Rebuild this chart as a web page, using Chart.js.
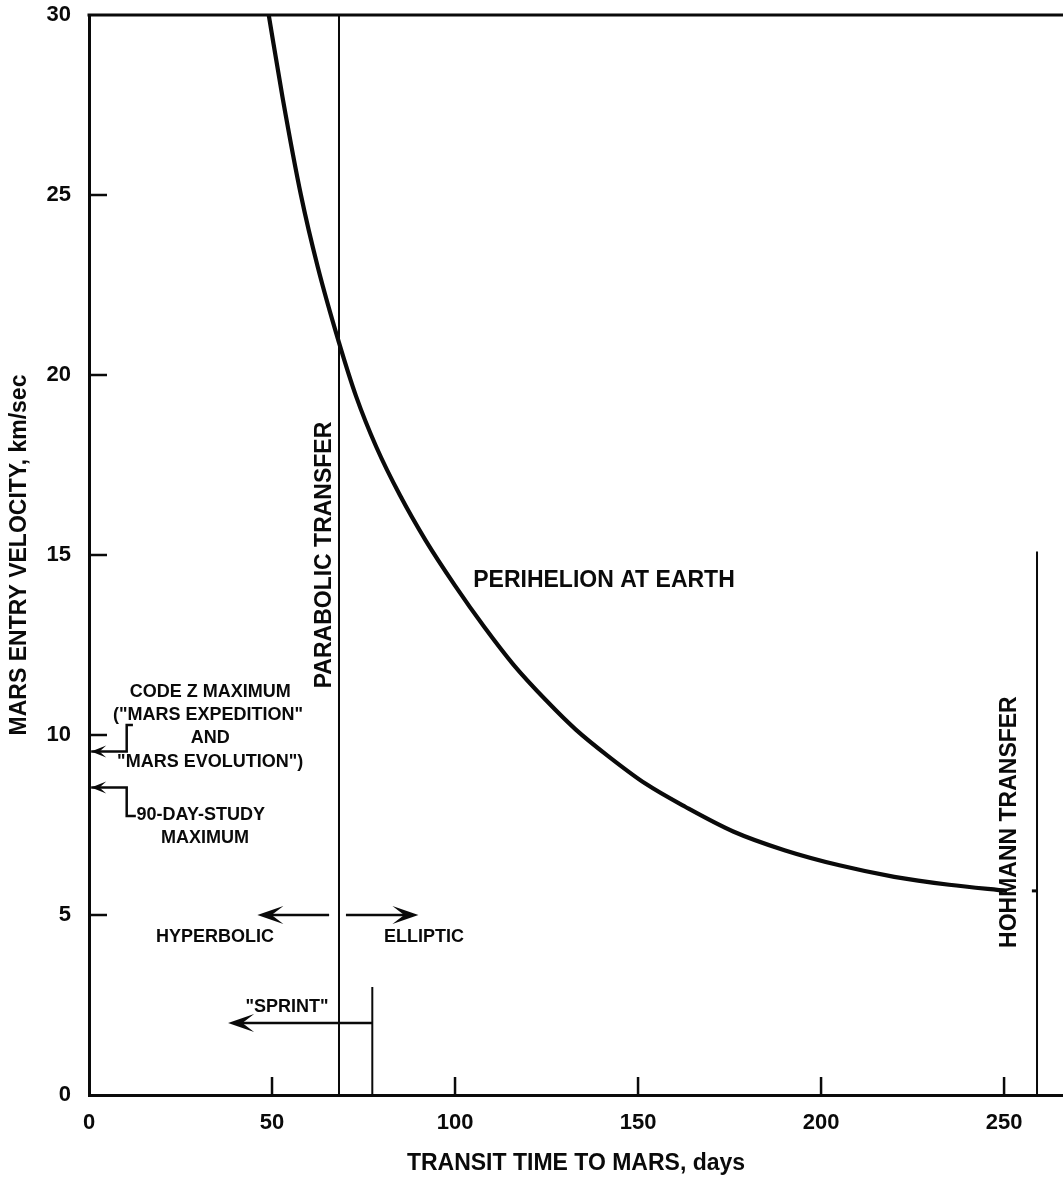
<!DOCTYPE html>
<html>
<head>
<meta charset="utf-8">
<script src="https://cdn.jsdelivr.net/npm/chart.js@4.4.1/dist/chart.umd.min.js"></script>
<style>
  html, body { margin: 0; padding: 0; background: #fff; }
  #wrap { width: 1063px; height: 1177px; position: relative; }
</style>
</head>
<body>
<div id="wrap"><canvas id="chart"></canvas></div>
<script>
// Mars entry velocity versus transit time for perihelion-at-Earth transfers
const transitDays   = [49.1, 52.9, 57.9, 62.5, 68.3, 73.0, 78.5, 85.0, 92.0, 100.0, 108.0, 116.0, 125.0, 133.0, 142.0, 152.0, 163.0, 176.0, 190.0, 205.0, 220.0, 235.0, 250.8];
const entryVelocity = [30.0, 27.7, 25.0, 23.0, 20.9, 19.4, 18.0, 16.65, 15.4, 14.15, 13.0, 11.95, 10.95, 10.15, 9.4, 8.65, 8.0, 7.32, 6.8, 6.38, 6.06, 5.84, 5.67];

const xTickValues = [0, 50, 100, 150, 200, 250];
const yTickValues = [0, 5, 10, 15, 20, 25, 30];

// reference transfers (days) and their marker heights (km/sec)
const parabolicDays = 68.3;
const hohmannDays = 259;
const hohmannTop = 15.1;
const hohmannVelocity = 5.67;
const sprintDays = 77.4;
const sprintTop = 3;
const sprintArrowLevel = 2;
const sprintArrowTip = 38;

// hyperbolic / elliptic regime arrows
const regimeLevel = 5;
const hyperbolicSpan = [65.6, 46];
const ellipticSpan = [70.2, 90];

// entry-velocity limits marked on the vertical axis
const codeZMax = 9.54;
const codeZBracket = [[0.6, 9.54], [10.3, 9.54], [10.3, 10.28], [12.0, 10.28]];
const studyMax = 8.54;
const studyBracket = [[0.6, 8.54], [10.3, 8.54], [10.3, 7.75], [12.8, 7.75]];

const smallLabels = [
  ['CODE Z MAXIMUM', 33.1, 11.19],
  ['("MARS EXPEDITION"', 32.5, 10.56],
  ['AND', 33.1, 9.92],
  ['"MARS EVOLUTION")', 33.1, 9.25],
  ['MAXIMUM', 31.7, 7.14],
  ['HYPERBOLIC', 34.4, 4.39],
  ['ELLIPTIC', 91.5, 4.39],
  ['"SPRINT"', 54.1, 2.44]
];
const leftLabels = [['90-DAY-STUDY', 13.0, 7.78]];
const bigLabels = [['PERIHELION AT EARTH', 140.7, 14.3]];
const verticalLabels = [
  ['PARABOLIC TRANSFER', 64.5, 15.0],
  ['HOHMANN TRANSFER', 251.6, 7.58]
];

const pts = arr => arr.map(p => ({ x: p[0], y: p[1] }));
const seg = (x1, y1, x2, y2) => [{ x: x1, y: y1 }, { x: x2, y: y2 }];

const INK = '#0a0a0a';
const FONT = '"Liberation Sans", Arial, Helvetica, sans-serif';

function line(data, width) {
  return { data, showLine: true, borderColor: INK, borderWidth: width, pointRadius: 0, tension: 0, fill: false };
}

const datasets = [
  Object.assign(line(transitDays.map((d, i) => ({ x: d, y: entryVelocity[i] })), 4.2), { cubicInterpolationMode: 'monotone' }),
  line(seg(parabolicDays, 0, parabolicDays, 30), 2),
  line(seg(hohmannDays, 0, hohmannDays, hohmannTop), 2),
  line(seg(hohmannDays - 1.4, hohmannVelocity, hohmannDays, hohmannVelocity), 3),
  line(seg(sprintDays, 0, sprintDays, sprintTop), 2),
  line(seg(sprintDays, sprintArrowLevel, sprintArrowTip + 3, sprintArrowLevel), 2.5),
  line(seg(hyperbolicSpan[0], regimeLevel, hyperbolicSpan[1] + 3, regimeLevel), 2.5),
  line(seg(ellipticSpan[0], regimeLevel, ellipticSpan[1] - 3, regimeLevel), 2.5),
  line(pts(codeZBracket), 2.5),
  line(pts(studyBracket), 2.5)
];

// arrowheads: [tip x, tip y, direction, size]
const arrowHeads = [
  [sprintArrowTip, sprintArrowLevel, -1, 'big'],
  [hyperbolicSpan[1], regimeLevel, -1, 'big'],
  [ellipticSpan[1], regimeLevel, 1, 'big'],
  [0.6, codeZMax, -1, 'small'],
  [0.6, studyMax, -1, 'small']
];

const decorations = {
  id: 'decorations',
  afterDatasetsDraw(chart) {
    const { ctx, chartArea: a, scales: { x, y } } = chart;
    ctx.save();
    ctx.strokeStyle = INK;
    ctx.fillStyle = INK;
    // frame top edge
    ctx.lineWidth = 3;
    ctx.beginPath();
    ctx.moveTo(a.left - 1.5, a.top);
    ctx.lineTo(a.right, a.top);
    ctx.stroke();
    // inward tick marks
    ctx.lineWidth = 2.5;
    xTickValues.filter(v => v > 0).forEach(v => {
      const px = x.getPixelForValue(v);
      ctx.beginPath(); ctx.moveTo(px, a.bottom); ctx.lineTo(px, a.bottom - 18); ctx.stroke();
    });
    yTickValues.filter(v => v > 0 && v < 30).forEach(v => {
      const py = y.getPixelForValue(v);
      ctx.beginPath(); ctx.moveTo(a.left, py); ctx.lineTo(a.left + 18, py); ctx.stroke();
    });
    // arrowheads
    arrowHeads.forEach(([tx, ty, dir, size]) => {
      const px = x.getPixelForValue(tx), py = y.getPixelForValue(ty);
      const L = size === 'big' ? 26 : 15, W = size === 'big' ? 9 : 6;
      ctx.beginPath();
      ctx.moveTo(px, py);
      ctx.lineTo(px - dir * L, py - W);
      ctx.lineTo(px - dir * L * 0.55, py);
      ctx.lineTo(px - dir * L, py + W);
      ctx.closePath();
      ctx.fill();
    });
    // labels
    ctx.textBaseline = 'middle';
    ctx.textAlign = 'center';
    ctx.font = 'bold 18px ' + FONT;
    smallLabels.forEach(([t, vx, vy]) => ctx.fillText(t, x.getPixelForValue(vx), y.getPixelForValue(vy)));
    ctx.textAlign = 'left';
    leftLabels.forEach(([t, vx, vy]) => ctx.fillText(t, x.getPixelForValue(vx), y.getPixelForValue(vy)));
    ctx.textAlign = 'center';
    ctx.font = 'bold 23px ' + FONT;
    bigLabels.forEach(([t, vx, vy]) => ctx.fillText(t, x.getPixelForValue(vx), y.getPixelForValue(vy)));
    verticalLabels.forEach(([t, vx, vy]) => {
      ctx.save();
      ctx.translate(x.getPixelForValue(vx), y.getPixelForValue(vy));
      ctx.rotate(-Math.PI / 2);
      ctx.fillText(t, 0, 0);
      ctx.restore();
    });
    ctx.restore();
  }
};

new Chart(document.getElementById('chart'), {
  type: 'scatter',
  data: { datasets },
  options: {
    responsive: true,
    maintainAspectRatio: false,
    devicePixelRatio: 1,
    animation: false,
    events: [],
    layout: { padding: { top: 15, right: 0, bottom: 0, left: 0 } },
    plugins: { legend: { display: false }, tooltip: { enabled: false } },
    scales: {
      x: {
        type: 'linear',
        min: 0,
        max: 266.1,
        afterBuildTicks: s => { s.ticks = xTickValues.map(v => ({ value: v })); },
        afterFit: s => { s.height = 82; },
        ticks: { color: INK, font: { family: FONT, size: 22, weight: 'bold' }, padding: 0, maxRotation: 0, includeBounds: false },
        grid: { display: true, drawOnChartArea: false, drawTicks: true, tickLength: 15, tickColor: 'rgba(0,0,0,0)' },
        border: { display: true, color: INK, width: 3 },
        title: { display: true, text: 'TRANSIT TIME TO MARS, days', color: INK,
                 font: { family: FONT, size: 23, weight: 'bold' }, padding: { top: 3, bottom: 0 } }
      },
      y: {
        type: 'linear',
        min: 0,
        max: 30,
        afterBuildTicks: s => { s.ticks = yTickValues.map(v => ({ value: v })); },
        afterFit: s => { s.width = 89; },
        ticks: { color: INK, font: { family: FONT, size: 22, weight: 'bold' }, padding: 0 },
        grid: { display: true, drawOnChartArea: false, drawTicks: true, tickLength: 18, tickColor: 'rgba(0,0,0,0)' },
        border: { display: true, color: INK, width: 3 },
        title: { display: true, text: 'MARS ENTRY VELOCITY, km/sec', color: INK,
                 font: { family: FONT, size: 23, weight: 'bold' }, padding: { top: 6, bottom: 0 } }
      }
    }
  },
  plugins: [decorations]
});
</script>
</body>
</html>
